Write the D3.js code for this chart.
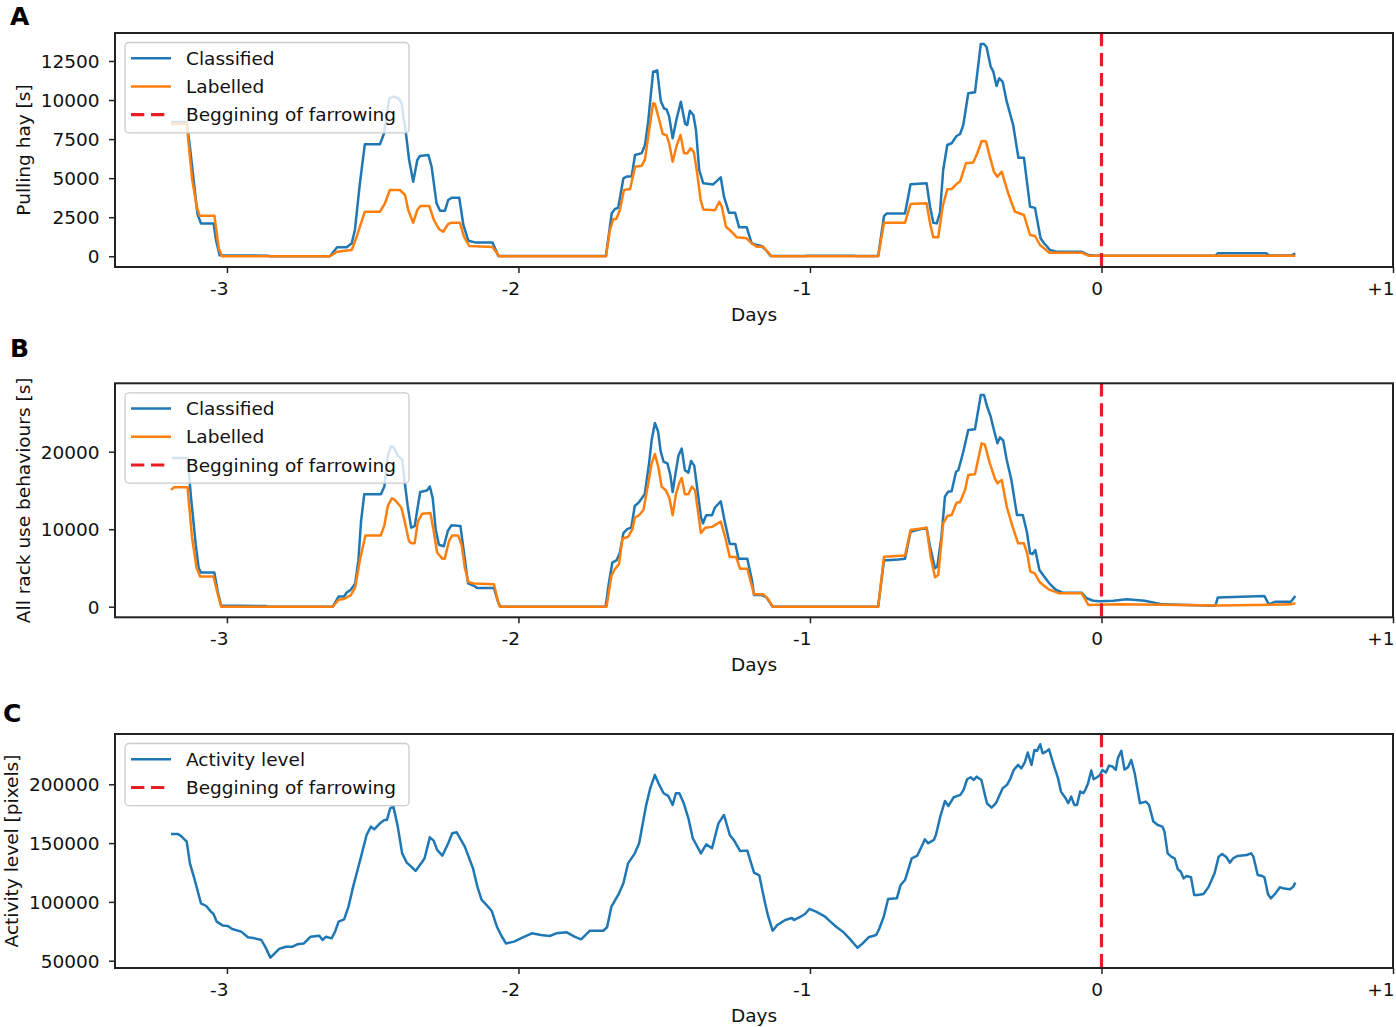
<!DOCTYPE html>
<html><head><meta charset="utf-8">
<script src="https://cdn.jsdelivr.net/npm/d3@7"></script>
<style>
body{margin:0;background:#fff}
svg{display:block}
text{font-family:"DejaVu Sans",sans-serif}
</style>
</head><body>
<svg id="chart" width="1396" height="1027"></svg>
<script>
// ---------------- DATA ----------------
const xTicks = [-3, -2, -1, 0, 1];
const xTickLabels = ["-3", "-2", "-1", "0", "+1"];
const xLimits = [-3.384, 1];
const farrowingDay = 0;

const hayTicks = [0, 2500, 5000, 7500, 10000, 12500];
const hayLimits = [-685, 14290];
const rackTicks = [0, 10000, 20000];
const rackLimits = [-1368, 28826];
const activityTicks = [50000, 100000, 150000, 200000];
const activityLimits = [43790, 242770];

// Panel A: Pulling hay [s]
const hayClassified = [
[-3.192,8600],[-3.138,8600],[-3.127,7000],[-3.112,4500],[-3.101,2700],[-3.089,2100],[-3.046,2100],[-3.037,1000],[-3.025,60],[-2.859,40],[-2.851,0],
[-2.647,0],[-2.622,576],[-2.589,576],[-2.572,832],[-2.561,1683],[-2.544,4672],[-2.527,7168],[-2.475,7168],[-2.461,7872],[-2.443,10112],[-2.430,10220],[-2.412,10112],[-2.401,9792],[-2.386,7872],[-2.375,6163],[-2.361,4774],[-2.347,6163],[-2.338,6420],[-2.309,6483],[-2.298,5734],[-2.281,3392],[-2.269,2918],[-2.252,2918],[-2.241,3603],[-2.229,3750],[-2.203,3750],[-2.189,2003],[-2.172,998],[-2.149,890],[-2.089,890],[-2.069,20],
[-1.700,20],[-1.680,2752],[-1.669,3027],[-1.658,3100],[-1.640,4992],[-1.629,5100],[-1.612,5100],[-1.600,6483],[-1.577,6600],[-1.566,7123],[-1.555,8615],[-1.538,11814],[-1.524,11900],[-1.512,9958],[-1.501,9472],[-1.492,9400],[-1.483,8934],[-1.471,7552],[-1.457,8832],[-1.443,9894],[-1.428,8467],[-1.421,8400],[-1.412,9318],[-1.400,9043],[-1.391,8083],[-1.380,5523],[-1.366,4672],[-1.332,4600],[-1.318,4838],[-1.306,5056],[-1.295,3814],[-1.278,2790],[-1.257,2790],[-1.243,1856],[-1.217,1856],[-1.200,832],[-1.183,730],[-1.166,659],[-1.149,358],[-1.135,20],[-1.017,20],[-1.010,40],[-0.849,40],[-0.840,20],
[-0.766,20],[-0.746,2566],[-0.737,2733],[-0.674,2733],[-0.655,4608],[-0.600,4672],[-0.588,3174],[-0.577,2150],[-0.565,2107],[-0.554,2790],[-0.543,5523],[-0.529,7123],[-0.514,7232],[-0.497,7699],[-0.485,7827],[-0.474,8403],[-0.457,10432],[-0.434,10496],[-0.414,13587],[-0.403,13587],[-0.394,13376],[-0.380,12134],[-0.371,11814],[-0.360,10899],[-0.351,11392],[-0.339,11174],[-0.325,9894],[-0.303,8403],[-0.285,6310],[-0.266,6310],[-0.245,3174],[-0.228,3100],[-0.209,1152],[-0.197,832],[-0.188,659],[-0.177,403],[-0.154,294],[-0.068,294],[-0.045,83],[-0.020,40],[0.391,40],[0.399,190],[0.566,190],[0.574,50],[0.650,50],[0.665,190]
];
const hayLabelled = [
[-3.192,8450],[-3.138,8500],[-3.120,5000],[-3.104,3200],[-3.094,2600],[-3.043,2600],[-3.028,500],[-3.017,0],
[-2.647,0],[-2.622,294],[-2.572,400],[-2.555,1254],[-2.527,2854],[-2.475,2854],[-2.458,3392],[-2.441,4243],[-2.407,4243],[-2.389,3923],[-2.378,2963],[-2.361,2150],[-2.347,2963],[-2.336,3219],[-2.306,3219],[-2.290,2323],[-2.272,1728],[-2.258,1574],[-2.241,2067],[-2.229,2150],[-2.201,2150],[-2.187,1254],[-2.169,659],[-2.089,600],[-2.066,0],
[-1.700,0],[-1.686,1683],[-1.675,2368],[-1.664,2400],[-1.652,2963],[-1.638,4243],[-1.617,4300],[-1.600,5734],[-1.577,5800],[-1.566,6200],[-1.555,7654],[-1.538,9792],[-1.532,9750],[-1.517,8723],[-1.505,7827],[-1.492,7750],[-1.483,7232],[-1.471,6054],[-1.457,7100],[-1.444,7763],[-1.432,6592],[-1.421,6592],[-1.409,6912],[-1.398,6650],[-1.387,5312],[-1.375,3603],[-1.366,3000],[-1.326,2950],[-1.311,3494],[-1.303,3200],[-1.288,1894],[-1.269,1574],[-1.251,1216],[-1.217,1150],[-1.200,832],[-1.183,614],[-1.160,614],[-1.149,358],[-1.132,0],
[-0.766,0],[-0.746,2150],[-0.674,2150],[-0.655,3347],[-0.600,3400],[-0.588,2107],[-0.577,1216],[-0.560,1216],[-0.545,3174],[-0.529,4288],[-0.514,4300],[-0.497,4627],[-0.485,4800],[-0.465,5952],[-0.440,6000],[-0.426,6592],[-0.411,7379],[-0.396,7350],[-0.383,6374],[-0.369,5414],[-0.357,5094],[-0.342,5414],[-0.331,4710],[-0.320,4032],[-0.297,2854],[-0.266,2643],[-0.245,1363],[-0.228,1300],[-0.211,723],[-0.194,467],[-0.179,230],[-0.068,230],[-0.045,40],[0.665,40]
];

// Panel B: All rack use behaviours [s]
const rackClassified = [
[-3.189,19200],[-3.135,19200],[-3.123,14000],[-3.107,8000],[-3.097,5000],[-3.089,4400],[-3.043,4400],[-3.032,2000],[-3.020,150],[-2.867,80],[-2.859,0],[-2.637,0],[-2.617,1300],[-2.598,1300],[-2.590,1800],[-2.575,2200],[-2.560,3000],[-2.549,6000],[-2.540,11000],[-2.529,14500],[-2.472,14500],[-2.460,15500],[-2.448,19500],[-2.437,20700],[-2.429,20600],[-2.414,19500],[-2.399,19000],[-2.390,16000],[-2.380,13000],[-2.368,10200],[-2.356,10400],[-2.345,13000],[-2.337,14800],[-2.314,15000],[-2.304,15500],[-2.294,14000],[-2.284,10000],[-2.273,8000],[-2.256,7800],[-2.242,9800],[-2.230,10500],[-2.199,10400],[-2.187,7000],[-2.173,3000],[-2.153,2700],[-2.141,2400],[-2.084,2400],[-2.069,500],[-2.061,0],[-1.701,0],[-1.690,3000],[-1.678,5700],[-1.663,6000],[-1.652,7000],[-1.640,9500],[-1.627,10000],[-1.613,10200],[-1.601,13000],[-1.586,13500],[-1.567,14500],[-1.552,18500],[-1.543,21500],[-1.532,23700],[-1.521,22600],[-1.512,20000],[-1.502,18700],[-1.489,18500],[-1.479,17000],[-1.471,14800],[-1.460,17500],[-1.451,19500],[-1.440,20400],[-1.429,17600],[-1.417,17300],[-1.408,18800],[-1.397,18200],[-1.374,11600],[-1.367,10750],[-1.356,11800],[-1.336,11800],[-1.326,12800],[-1.306,13600],[-1.291,10750],[-1.275,8100],[-1.256,8100],[-1.245,6200],[-1.215,6200],[-1.199,3400],[-1.192,1500],[-1.165,1500],[-1.149,1200],[-1.128,0],
[-0.766,0],[-0.746,6026],[-0.737,6000],[-0.697,6090],[-0.674,6200],[-0.655,9677],[-0.600,10200],[-0.588,7742],[-0.571,4955],[-0.563,5200],[-0.549,9032],[-0.537,14194],[-0.526,14839],[-0.514,14900],[-0.499,17419],[-0.491,17600],[-0.474,20000],[-0.457,22800],[-0.434,22900],[-0.414,27316],[-0.403,27316],[-0.394,26026],[-0.380,24516],[-0.369,22800],[-0.357,21084],[-0.348,21858],[-0.337,21419],[-0.325,18929],[-0.309,16348],[-0.290,11832],[-0.270,11832],[-0.256,9677],[-0.245,6890],[-0.236,6800],[-0.227,7316],[-0.213,4735],[-0.196,3871],[-0.179,3019],[-0.156,2155],[-0.133,1806],[-0.068,1806],[-0.051,1084],[-0.028,774],[-0.005,700],[0.041,774],[0.087,950],[0.148,770],[0.209,300],[0.391,130],[0.399,1200],[0.559,1380],[0.574,300],[0.597,650],[0.650,650],[0.665,1380]
];
const rackLabelled = [
[-3.192,15100],[-3.181,15400],[-3.135,15400],[-3.120,9000],[-3.104,5000],[-3.092,3900],[-3.046,3900],[-3.034,2000],[-3.020,0],[-2.637,0],[-2.617,900],[-2.598,1000],[-2.575,1500],[-2.560,2500],[-2.544,6000],[-2.525,9200],[-2.472,9200],[-2.460,10500],[-2.448,13000],[-2.434,14000],[-2.422,13700],[-2.402,12800],[-2.390,11000],[-2.376,8500],[-2.368,8200],[-2.356,8200],[-2.345,11000],[-2.330,12000],[-2.302,12100],[-2.291,9800],[-2.279,7000],[-2.261,6200],[-2.253,6200],[-2.238,8500],[-2.227,9200],[-2.207,9200],[-2.195,8000],[-2.184,5000],[-2.172,3200],[-2.153,3000],[-2.084,2900],[-2.069,500],[-2.064,0],[-1.698,0],[-1.681,4000],[-1.670,4800],[-1.655,5500],[-1.643,8800],[-1.624,9000],[-1.609,10000],[-1.601,11500],[-1.586,11800],[-1.571,12500],[-1.552,16500],[-1.543,18500],[-1.532,19700],[-1.520,18000],[-1.509,15500],[-1.494,15000],[-1.482,14000],[-1.471,11800],[-1.460,14500],[-1.448,16000],[-1.440,16600],[-1.429,14500],[-1.417,14500],[-1.405,15500],[-1.394,15000],[-1.374,9500],[-1.359,10200],[-1.336,10300],[-1.306,11000],[-1.291,9000],[-1.275,6400],[-1.253,6400],[-1.240,4900],[-1.215,4900],[-1.199,2600],[-1.192,1600],[-1.161,1600],[-1.146,1100],[-1.128,0],
[-0.766,0],[-0.746,6452],[-0.674,6600],[-0.655,9900],[-0.600,10200],[-0.586,6452],[-0.571,3790],[-0.560,4100],[-0.543,10760],[-0.529,11700],[-0.514,11830],[-0.497,13419],[-0.485,13500],[-0.468,15058],[-0.457,16994],[-0.434,17100],[-0.411,21084],[-0.400,20900],[-0.383,18500],[-0.366,16568],[-0.357,15922],[-0.342,16348],[-0.325,12903],[-0.305,10323],[-0.286,8181],[-0.266,8181],[-0.255,6890],[-0.244,4516],[-0.229,4300],[-0.213,3226],[-0.196,2671],[-0.179,2200],[-0.145,1729],[-0.068,1729],[-0.045,220],[0.063,300],[0.400,150],[0.650,300],[0.665,450]
];

// Panel C: Activity level [pixels]
const activityLevel = [
[-3.192,157800],[-3.169,157800],[-3.158,156100],[-3.138,151200],[-3.127,132800],[-3.112,120000],[-3.089,98800],[-3.071,96500],[-3.055,91700],[-3.046,89700],[-3.035,83200],[-3.015,80000],[-2.997,79500],[-2.982,77000],[-2.951,74700],[-2.928,69900],[-2.905,69000],[-2.882,67600],[-2.867,61100],[-2.851,52600],[-2.836,56200],[-2.821,60000],[-2.798,61900],[-2.775,61900],[-2.759,63900],[-2.736,64700],[-2.713,70400],[-2.683,71300],[-2.672,67600],[-2.660,70400],[-2.641,69000],[-2.629,74700],[-2.617,83200],[-2.598,85200],[-2.583,96000],[-2.567,113000],[-2.552,127100],[-2.537,141300],[-2.521,156900],[-2.506,164000],[-2.495,161700],[-2.475,166800],[-2.460,169700],[-2.451,169700],[-2.440,179600],[-2.429,181000],[-2.414,164000],[-2.399,141300],[-2.383,133400],[-2.368,130000],[-2.353,126300],[-2.330,134200],[-2.322,137100],[-2.304,154900],[-2.291,152100],[-2.279,144200],[-2.261,139300],[-2.241,149800],[-2.227,158300],[-2.212,159200],[-2.184,147000],[-2.156,128600],[-2.141,113000],[-2.126,101600],[-2.110,97400],[-2.092,92500],[-2.074,78900],[-2.058,71000],[-2.043,64700],[-2.015,66200],[-1.985,69900],[-1.954,73300],[-1.923,71800],[-1.893,71000],[-1.870,73300],[-1.834,74100],[-1.808,70400],[-1.785,68200],[-1.755,75500],[-1.709,75500],[-1.696,78400],[-1.681,96000],[-1.655,107300],[-1.640,115800],[-1.624,132800],[-1.601,141300],[-1.586,149800],[-1.563,181000],[-1.548,196600],[-1.532,208000],[-1.517,199500],[-1.502,192400],[-1.486,190100],[-1.471,182400],[-1.460,192400],[-1.448,192400],[-1.433,183900],[-1.417,171100],[-1.402,154100],[-1.374,141300],[-1.356,149000],[-1.336,145600],[-1.314,166800],[-1.295,173900],[-1.275,156900],[-1.260,152100],[-1.240,143300],[-1.215,143600],[-1.192,124900],[-1.174,122600],[-1.154,98800],[-1.143,87400],[-1.128,75500],[-1.112,80300],[-1.085,84600],[-1.062,86300],[-1.055,84600],[-1.032,87400],[-1.017,89700],[-1.002,94000],[-0.979,91700],[-0.948,87400],[-0.930,83200],[-0.910,78900],[-0.887,74700],[-0.865,69000],[-0.837,61000],[-0.819,64700],[-0.799,69900],[-0.773,71800],[-0.763,76700],[-0.747,87400],[-0.732,102500],[-0.702,103000],[-0.689,114400],[-0.674,118600],[-0.651,137100],[-0.632,139300],[-0.613,149300],[-0.606,153200],[-0.595,149800],[-0.575,152700],[-0.568,156900],[-0.553,172500],[-0.537,185800],[-0.525,181600],[-0.507,189000],[-0.484,191000],[-0.473,195200],[-0.461,204300],[-0.449,206000],[-0.438,203700],[-0.428,206500],[-0.412,203700],[-0.393,183900],[-0.377,180200],[-0.362,183900],[-0.339,196600],[-0.324,199500],[-0.312,205100],[-0.301,212200],[-0.286,216500],[-0.275,213600],[-0.263,218700],[-0.253,227000],[-0.240,216500],[-0.230,229200],[-0.221,228400],[-0.210,234100],[-0.202,226400],[-0.190,227800],[-0.180,229800],[-0.164,216500],[-0.149,205100],[-0.139,193800],[-0.123,188100],[-0.114,183900],[-0.104,189500],[-0.093,182400],[-0.084,182400],[-0.073,193800],[-0.062,192400],[-0.053,196600],[-0.046,200900],[-0.035,211700],[-0.027,204300],[-0.015,206000],[-0.005,208000],[0.003,212200],[0.015,210000],[0.026,215900],[0.038,215100],[0.049,212200],[0.056,222100],[0.068,228400],[0.079,212500],[0.091,214500],[0.102,220700],[0.114,209400],[0.132,183900],[0.152,185300],[0.163,182400],[0.178,168300],[0.193,165400],[0.209,164000],[0.216,159800],[0.227,141300],[0.239,138500],[0.251,137100],[0.262,127700],[0.272,125700],[0.282,120000],[0.292,122000],[0.307,120900],[0.318,105900],[0.330,105900],[0.350,106700],[0.368,113000],[0.388,124300],[0.402,138500],[0.414,140800],[0.429,137900],[0.440,133400],[0.452,137100],[0.467,139100],[0.498,139900],[0.513,141300],[0.521,138500],[0.536,122900],[0.551,122000],[0.559,120900],[0.571,106700],[0.581,103000],[0.597,107300],[0.612,112400],[0.627,111300],[0.647,110700],[0.658,113000],[0.665,116400]
];

// ---------------- STYLE / LAYOUT ----------------
const BLUE = "#1f77b4", ORANGE = "#ff7f0e", RED = "#ec1c24";
const FONT = 18.5;
const left = 115, right = 1393;

const panels = [
  {letter:"A", letterX:10, letterY:25, top:33, bottom:267, lim:hayLimits, ticks:hayTicks,
   label:"Pulling hay [s]", labelX:29.5,
   series:[{name:"Classified", data:hayClassified, color:BLUE},{name:"Labelled", data:hayLabelled, color:ORANGE}]},
  {letter:"B", letterX:10, letterY:357, top:383.3, bottom:617.3, lim:rackLimits, ticks:rackTicks,
   label:"All rack use behaviours [s]", labelX:29.5,
   series:[{name:"Classified", data:rackClassified, color:BLUE},{name:"Labelled", data:rackLabelled, color:ORANGE}]},
  {letter:"C", letterX:3, letterY:722, top:734, bottom:968, lim:activityLimits, ticks:activityTicks,
   label:"Activity level [pixels]", labelX:17.5,
   series:[{name:"Activity level", data:activityLevel, color:BLUE}]}
];

const svg = d3.select("#chart");
const x = d3.scaleLinear().domain(xLimits).range([left, right]);

panels.forEach(p => {
  const y = d3.scaleLinear().domain(p.lim).range([p.bottom, p.top]);
  const g = svg.append("g");

  const line = d3.line().x(d => x(d[0])).y(d => y(d[1]));
  p.series.forEach(s => {
    g.append("path").datum(s.data).attr("d", line)
      .attr("fill", "none").attr("stroke", s.color)
      .attr("stroke-width", 2.5).attr("stroke-linejoin", "round").attr("stroke-linecap", "butt");
  });

  // beginning of farrowing
  g.append("line")
    .attr("x1", x(farrowingDay)).attr("x2", x(farrowingDay))
    .attr("y1", p.top).attr("y2", p.bottom)
    .attr("stroke", RED).attr("stroke-width", 3.2).attr("stroke-dasharray", "13.3,6.7");

  // x axis
  const xa = g.append("g").attr("transform", `translate(0,${p.bottom})`)
    .call(d3.axisBottom(x).tickValues(xTicks).tickFormat((d, i) => xTickLabels[i]).tickSize(6).tickPadding(9));
  xa.select(".domain").remove();
  xa.selectAll(".tick line").attr("stroke", "#222").attr("stroke-width", 1.5);
  xa.selectAll(".tick text").attr("font-size", FONT).attr("font-family", "DejaVu Sans")
    .attr("fill", "#111").attr("text-anchor", "end").attr("x", 1);

  // y axis
  const ya = g.append("g").attr("transform", `translate(${left},0)`)
    .call(d3.axisLeft(y).tickValues(p.ticks).tickFormat(d3.format("d")).tickSize(6).tickPadding(9.5));
  ya.select(".domain").remove();
  ya.selectAll(".tick line").attr("stroke", "#222").attr("stroke-width", 1.5);
  ya.selectAll(".tick text").attr("font-size", FONT).attr("font-family", "DejaVu Sans")
    .attr("fill", "#111").attr("dy", "0.36em");

  // frame
  g.append("rect").attr("x", left).attr("y", p.top)
    .attr("width", right - left).attr("height", p.bottom - p.top)
    .attr("fill", "none").attr("stroke", "#222").attr("stroke-width", 2);

  // axis labels
  g.append("text").attr("x", (left + right) / 2).attr("y", p.bottom + 54)
    .attr("text-anchor", "middle").attr("font-size", FONT).attr("fill", "#111").text("Days");
  g.append("text")
    .attr("transform", `translate(${p.labelX},${(p.top + p.bottom) / 2}) rotate(-90)`)
    .attr("text-anchor", "middle").attr("font-size", FONT).attr("fill", "#111").text(p.label);

  // panel letter
  svg.append("text").attr("x", p.letterX).attr("y", p.letterY)
    .attr("font-family", "Liberation Sans, Arial, sans-serif").attr("font-weight", "bold")
    .attr("font-size", 25).attr("fill", "#000").text(p.letter);

  // legend
  const entries = p.series.map(s => ({name: s.name, color: s.color, dash: null}))
    .concat([{name: "Beggining of farrowing", color: RED, dash: "13.3,6.7"}]);
  const lg = g.append("g");
  const lh = 34 + 28.2 * (entries.length - 1);
  lg.append("rect").attr("x", 125).attr("y", p.top + 9.5).attr("width", 284).attr("height", lh)
    .attr("rx", 4).attr("fill", "#fff").attr("fill-opacity", 0.8)
    .attr("stroke", "#cccccc").attr("stroke-width", 1.3);
  entries.forEach((e, i) => {
    const ry = p.top + 25.3 + i * 28.2;
    lg.append("line").attr("x1", 131).attr("x2", 171).attr("y1", ry).attr("y2", ry)
      .attr("stroke", e.color).attr("stroke-width", e.dash ? 3.2 : 2.5)
      .attr("stroke-dasharray", e.dash);
    lg.append("text").attr("x", 186).attr("y", ry).attr("dy", "0.36em")
      .attr("font-size", FONT).attr("fill", "#111").text(e.name);
  });
});
</script>
</body></html>
